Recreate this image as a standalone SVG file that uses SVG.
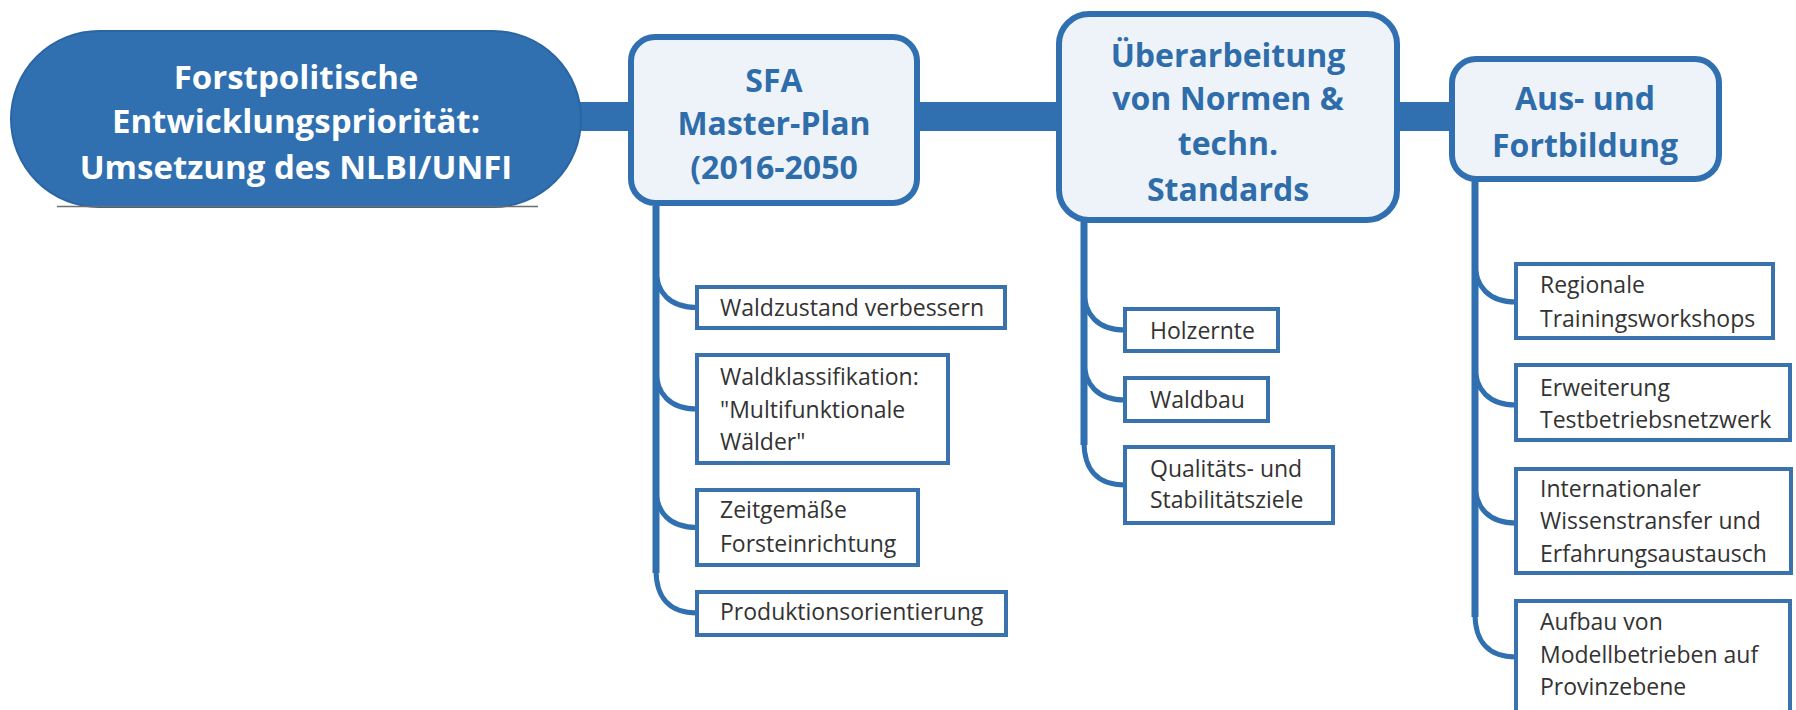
<svg xmlns="http://www.w3.org/2000/svg" width="1796" height="710" viewBox="0 0 1796 710">
<style>
.bar{fill:#3070B0}
.main{fill:#EEF3FA;stroke:#3070B0;stroke-width:6}
.title{font-family:"Open Sans","Noto Sans",sans-serif;font-weight:bold;font-size:32px;fill:#2F6DAA;text-anchor:middle}
.root-t{font-family:"Open Sans","Noto Sans",sans-serif;font-weight:bold;font-size:33px;fill:#FFFFFF;text-anchor:middle}
.child{fill:#FFFFFF;stroke:#3A72AE;stroke-width:4}
.ct{font-family:"Open Sans","Noto Sans",sans-serif;font-size:23px;fill:#333333}
.trunk{fill:none;stroke:#3070B0;stroke-width:7}
.br{fill:none;stroke:#3070B0;stroke-width:5}
</style>
<rect width="1796" height="710" fill="#FFFFFF"/>
<g id="connectors">
<rect class="bar" x="560" y="102" width="900" height="29"/>
<path class="trunk" d="M656 206 V573"/>
<path class="br" d="M656 268 C656 293 670 307.5 697 307.5"/>
<path class="br" d="M656 369 C656 394 670 409 697 409"/>
<path class="br" d="M656 488 C656 513 670 527.5 697 527.5"/>
<path class="br" d="M656 570 C656 598 670 613 697 613"/>
<path class="trunk" d="M1084 222 V445"/>
<path class="br" d="M1084 290 C1084 315 1098 330 1125 330"/>
<path class="br" d="M1084 360 C1084 385 1098 400 1125 400"/>
<path class="br" d="M1084 442 C1084 470 1098 485 1125 485"/>
<path class="trunk" d="M1475 181 V617"/>
<path class="br" d="M1475 262 C1475 287 1489 302 1516 302"/>
<path class="br" d="M1475 365 C1475 390 1489 405 1516 405"/>
<path class="br" d="M1475 483 C1475 508 1489 523 1516 523"/>
<path class="br" d="M1475 614 C1475 642 1489 657 1516 657"/>
</g>
<g id="root">
<rect x="11" y="31" width="570" height="176" rx="88" fill="#3070B0" stroke="#2A66A3" stroke-width="2"/>
<line x1="57" y1="206.5" x2="538" y2="206.5" stroke="#6E6E6E" stroke-width="1.5"/>
<text class="root-t" x="296" y="89">Forstpolitische</text>
<text class="root-t" x="296" y="133">Entwicklungspriorität:</text>
<text class="root-t" x="296" y="179">Umsetzung des NLBI/UNFI</text>
</g>
<g id="sfa">
<rect class="main" x="631" y="37" width="286" height="166" rx="24"/>
<text class="title" x="774" y="92">SFA</text>
<text class="title" x="774" y="135">Master-Plan</text>
<text class="title" x="774" y="179">(2016-2050</text>
</g>
<g id="normen">
<rect class="main" x="1059" y="14" width="338" height="206" rx="30"/>
<text class="title" x="1228" y="67">Überarbeitung</text>
<text class="title" x="1228" y="110">von Normen &amp;</text>
<text class="title" x="1228" y="155">techn.</text>
<text class="title" x="1228" y="201">Standards</text>
</g>
<g id="ausbildung">
<rect class="main" x="1452" y="59" width="267" height="120" rx="24"/>
<text class="title" x="1585" y="110">Aus- und</text>
<text class="title" x="1585" y="157">Fortbildung</text>
</g>
<g id="c-waldzustand">
<rect class="child" x="697" y="287" width="308" height="41"/>
<text class="ct" x="720" y="316">Waldzustand verbessern</text>
</g>
<g id="c-waldklassifikation">
<rect class="child" x="697" y="355" width="251" height="108"/>
<text class="ct" x="720" y="385">Waldklassifikation:</text>
<text class="ct" x="720" y="418">"Multifunktionale</text>
<text class="ct" x="720" y="450">Wälder"</text>
</g>
<g id="c-zeitgemaesse">
<rect class="child" x="697" y="490" width="221" height="75"/>
<text class="ct" x="720" y="518">Zeitgemäße</text>
<text class="ct" x="720" y="552">Forsteinrichtung</text>
</g>
<g id="c-produktion">
<rect class="child" x="697" y="592" width="309" height="43"/>
<text class="ct" x="720" y="620">Produktionsorientierung</text>
</g>
<g id="c-holzernte">
<rect class="child" x="1125" y="309" width="153" height="42"/>
<text class="ct" x="1150" y="339">Holzernte</text>
</g>
<g id="c-waldbau">
<rect class="child" x="1125" y="378" width="143" height="43"/>
<text class="ct" x="1150" y="408">Waldbau</text>
</g>
<g id="c-qualitaet">
<rect class="child" x="1125" y="447" width="208" height="76"/>
<text class="ct" x="1150" y="477">Qualitäts- und</text>
<text class="ct" x="1150" y="508">Stabilitätsziele</text>
</g>
<g id="c-regionale">
<rect class="child" x="1516" y="264" width="257" height="74"/>
<text class="ct" x="1540" y="293">Regionale</text>
<text class="ct" x="1540" y="327">Trainingsworkshops</text>
</g>
<g id="c-erweiterung">
<rect class="child" x="1516" y="365" width="274" height="75"/>
<text class="ct" x="1540" y="396">Erweiterung</text>
<text class="ct" x="1540" y="428">Testbetriebsnetzwerk</text>
</g>
<g id="c-international">
<rect class="child" x="1516" y="469" width="275" height="104"/>
<text class="ct" x="1540" y="497">Internationaler</text>
<text class="ct" x="1540" y="529">Wissenstransfer und</text>
<text class="ct" x="1540" y="562">Erfahrungsaustausch</text>
</g>
<g id="c-aufbau">
<rect class="child" x="1516" y="601" width="274" height="120"/>
<text class="ct" x="1540" y="630">Aufbau von</text>
<text class="ct" x="1540" y="663">Modellbetrieben auf</text>
<text class="ct" x="1540" y="695">Provinzebene</text>
</g>
</svg>
